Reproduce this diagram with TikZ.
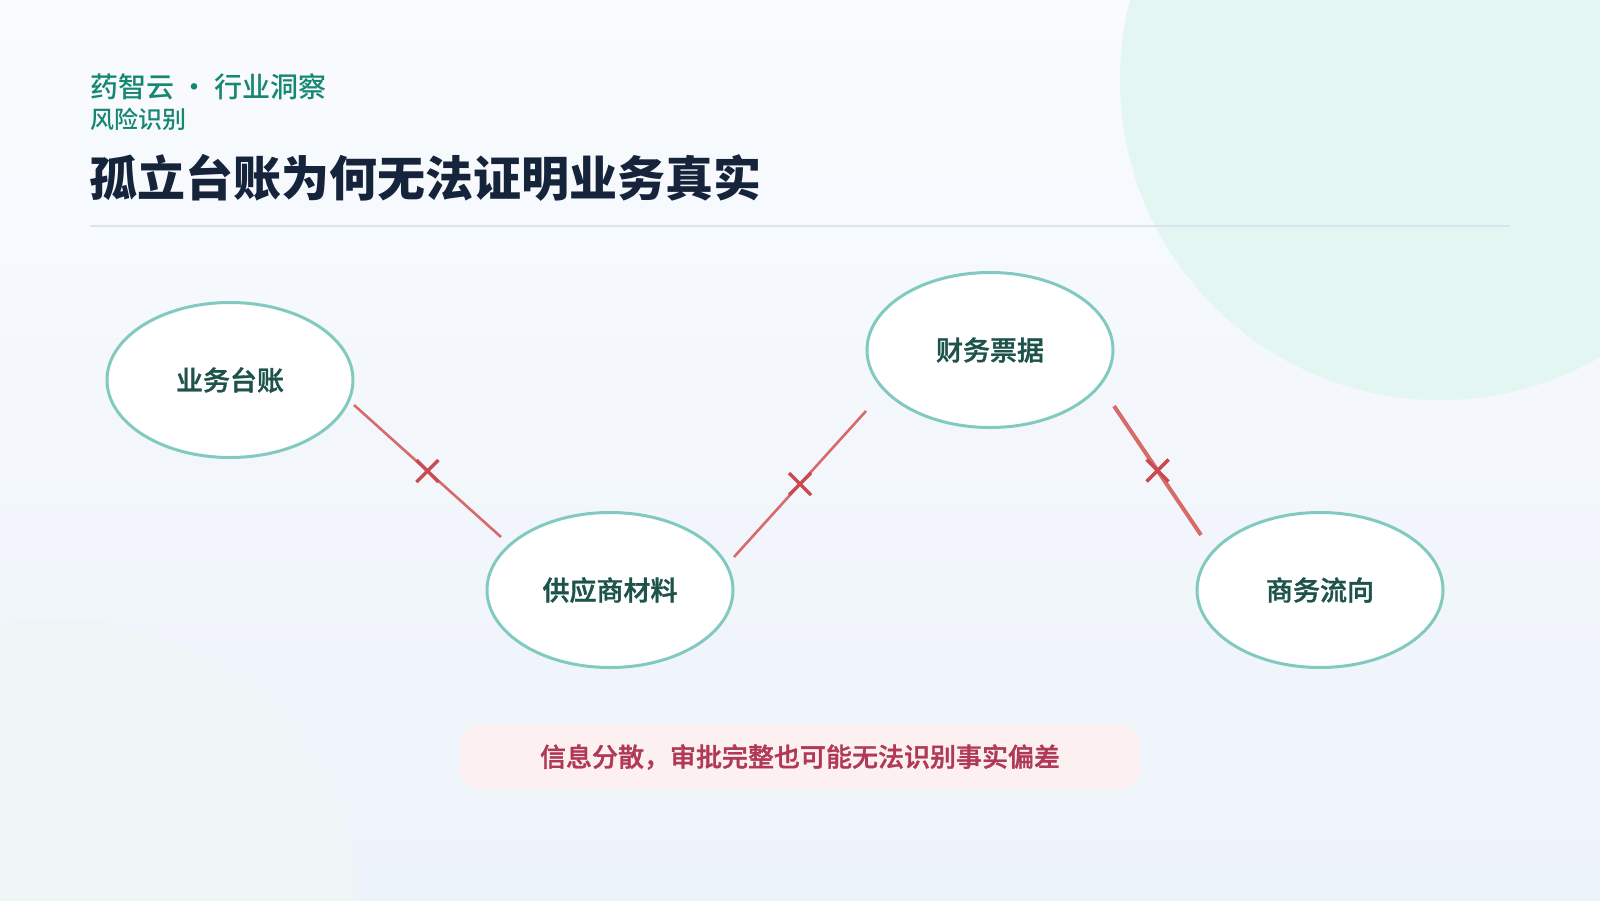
\documentclass[tikz,border=0pt]{standalone}
\usepackage{fontspec}
\setmainfont{Noto Sans CJK SC}
\newfontfamily\cjkmed{Noto Sans CJK SC Medium}
\newfontfamily\cjksemi[FakeBold=1.3]{Noto Sans CJK SC Medium}
\usetikzlibrary{shapes.geometric,shapes.misc}
\definecolor{bgtop}{HTML}{F9FBFE}
\definecolor{bgbot}{HTML}{EDF3FA}
\definecolor{blobgreen}{HTML}{E3F6F1}
\definecolor{blobfaint}{HTML}{EFF4F7}
\definecolor{brand}{HTML}{168872}
\definecolor{titlecol}{HTML}{15233B}
\definecolor{rulecol}{HTML}{DCE5EF}
\definecolor{ellstroke}{HTML}{82C9C0}
\definecolor{elltext}{HTML}{1E534C}
\definecolor{redline}{HTML}{D86A6A}
\definecolor{redx}{HTML}{C94A50}
\definecolor{notefill}{HTML}{FDF0F1}
\definecolor{notetext}{HTML}{B03A55}
\tikzset{
  entity/.style={ellipse, draw=ellstroke, line width=3pt, fill=white,
    minimum width=246pt, minimum height=155pt, inner sep=0pt, outer sep=0pt,
    text=elltext, font=\fontsize{27}{31}\cjksemi},
  broken/.style={draw=redline, line width=2.6pt},
  brokenthick/.style={draw=redline, line width=4pt},
  crossmark/.style={cross out, draw=redx, line width=3.5pt, minimum size=22pt,
    inner sep=0pt, outer sep=0pt},
  note/.style={rounded corners=20pt, fill=notefill, draw=none,
    minimum width=680pt, minimum height=65pt, inner sep=0pt,
    text=notetext, font=\fontsize{26}{30}\cjksemi},
}
\begin{document}
\begin{tikzpicture}[x=1pt,y=-1pt]
\useasboundingbox (0,0) rectangle (1600,900);
\clip (0,0) rectangle (1600,900);
% background
\shade[top color=bgtop, bottom color=bgbot] (0,0) rectangle (1600,900);
\fill[blobfaint] (60,920) circle[radius=300];
\fill[blobgreen] (1440,80) circle[radius=320];
% header
\node[anchor=west, inner sep=0pt, text=brand, font=\fontsize{28}{32}\cjkmed] (brandline) at (90,87) {药智云 · 行业洞察};
\node[anchor=west, inner sep=0pt, text=brand, font=\fontsize{24}{28}\cjkmed] (section) at (90,119) {风险识别};
\node[anchor=west, inner sep=0pt, text=titlecol, font=\fontsize{48}{54}\selectfont\bfseries] (title) at (89,178) {孤立台账为何无法证明业务真实};
\draw[rulecol, line width=1.5pt] (90,226) -- (1510,226);
% entities
\node[entity] (ledger) at (230,380) {业务台账};
\node[entity] (supplier) at (610,590) {供应商材料};
\node[entity] (finance) at (990,350) {财务票据};
\node[entity] (flow) at (1320,590) {商务流向};
% broken links
\draw[broken] ([shift={(1,25)}]ledger.east) -- node[crossmark] (x1) {} ([shift={(14,-53)}]supplier.west);
\draw[broken] ([shift={(1,-33)}]supplier.east) -- node[crossmark] (x2) {} ([shift={(-1,61)}]finance.west);
\draw[brokenthick] ([shift={(1,56)}]finance.east) -- node[crossmark] (x3) {} ([shift={(4,-55)}]flow.west);
% note
\node[note] (summary) at (800,757) {信息分散，审批完整也可能无法识别事实偏差};
\end{tikzpicture}
\end{document}
